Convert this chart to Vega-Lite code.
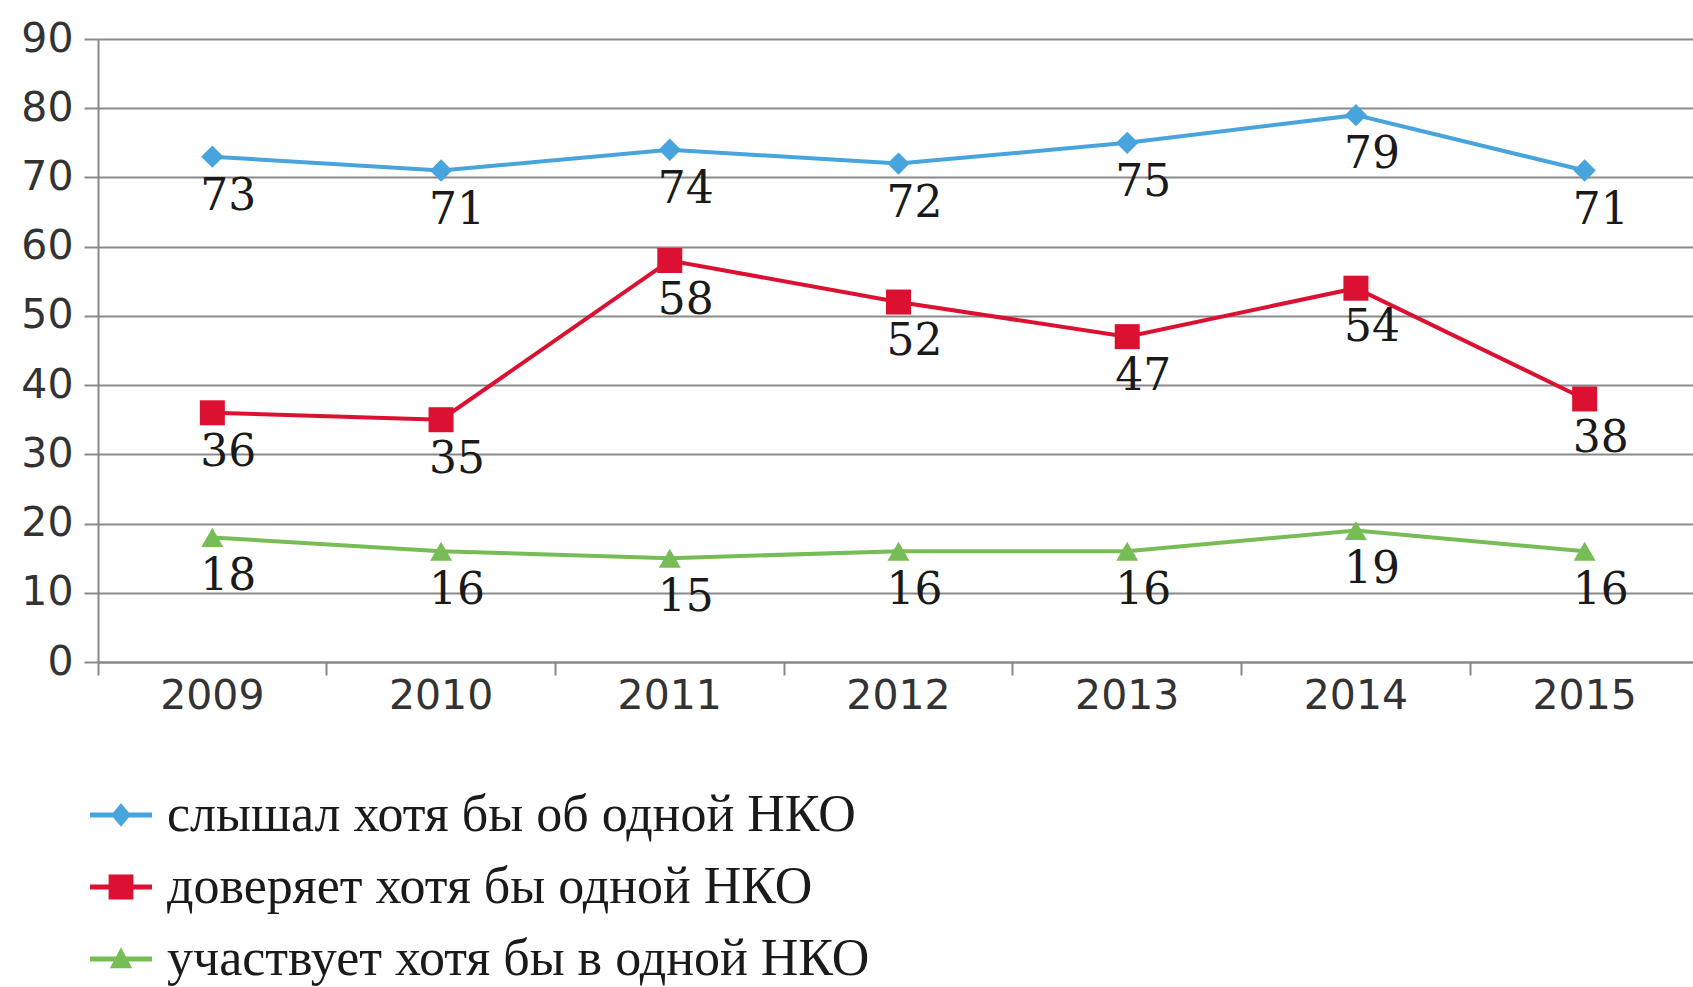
{
  "$schema": "https://vega.github.io/schema/vega-lite/v6.json",
  "width": 1595,
  "height": 623,
  "autosize": {"type": "none"},
  "padding": {"left": 98, "top": 39, "right": 0, "bottom": 325},
  "background": "white",
  "config": {
    "view": {"stroke": null},
    "axis": {"labelFont": "DejaVu Sans", "labelFontSize": 41, "labelColor": "#333333"}
  },
  "data": {
    "values": [
      {"year": "2009", "series": "слышал хотя бы об одной НКО", "value": 73},
      {"year": "2010", "series": "слышал хотя бы об одной НКО", "value": 71},
      {"year": "2011", "series": "слышал хотя бы об одной НКО", "value": 74},
      {"year": "2012", "series": "слышал хотя бы об одной НКО", "value": 72},
      {"year": "2013", "series": "слышал хотя бы об одной НКО", "value": 75},
      {"year": "2014", "series": "слышал хотя бы об одной НКО", "value": 79},
      {"year": "2015", "series": "слышал хотя бы об одной НКО", "value": 71},
      {"year": "2009", "series": "доверяет хотя бы одной НКО", "value": 36},
      {"year": "2010", "series": "доверяет хотя бы одной НКО", "value": 35},
      {"year": "2011", "series": "доверяет хотя бы одной НКО", "value": 58},
      {"year": "2012", "series": "доверяет хотя бы одной НКО", "value": 52},
      {"year": "2013", "series": "доверяет хотя бы одной НКО", "value": 47},
      {"year": "2014", "series": "доверяет хотя бы одной НКО", "value": 54},
      {"year": "2015", "series": "доверяет хотя бы одной НКО", "value": 38},
      {"year": "2009", "series": "участвует хотя бы в одной НКО", "value": 18},
      {"year": "2010", "series": "участвует хотя бы в одной НКО", "value": 16},
      {"year": "2011", "series": "участвует хотя бы в одной НКО", "value": 15},
      {"year": "2012", "series": "участвует хотя бы в одной НКО", "value": 16},
      {"year": "2013", "series": "участвует хотя бы в одной НКО", "value": 16},
      {"year": "2014", "series": "участвует хотя бы в одной НКО", "value": 19},
      {"year": "2015", "series": "участвует хотя бы в одной НКО", "value": 16}
    ]
  },
  "encoding": {
    "x": {"field": "year", "type": "ordinal", "axis": null, "scale": {"type": "band", "range": [0, 1601], "paddingInner": 0, "paddingOuter": 0}},
    "y": {"field": "value", "type": "quantitative", "scale": {"domain": [0, 90], "nice": false}}
  },
  "layer": [
    {
      "mark": {"type": "line", "strokeWidth": 4},
      "encoding": {
        "x": {"field": "year", "type": "ordinal", "axis": {"orient": "bottom", "title": null, "labelAngle": 0, "ticks": false, "domain": true, "domainColor": "#888888", "domainWidth": 2, "labelPadding": 14, "grid": false}},
        "y": {"field": "value", "type": "quantitative", "axis": {"title": null, "values": [0,10,20,30,40,50,60,70,80,90], "grid": true, "gridColor": "#8a8a8a", "gridWidth": 2, "gridOpacity": 1, "domainColor": "#888888", "domainWidth": 2, "tickColor": "#8a8a8a", "tickWidth": 2, "tickSize": 14, "labelPadding": 11}},
        "color": {
          "field": "series", "type": "nominal",
          "scale": {"domain": ["слышал хотя бы об одной НКО", "доверяет хотя бы одной НКО", "участвует хотя бы в одной НКО"], "range": ["#48a4dd", "#dc1030", "#77bd55"]},
          "legend": {
            "title": null, "orient": "none", "legendX": -8, "legendY": 745, "padding": 0,
            "direction": "vertical", "rowPadding": 15, "symbolSize": 3844, "labelOffset": 15,
            "labelFont": "Liberation Serif", "labelFontSize": 52, "labelColor": "#1a1a1a", "labelLimit": 1000,
            "encode": {
              "symbols": {
                "update": {
                  "shape": {"signal": "datum.value === 'слышал хотя бы об одной НКО' ? 'M-1,-0.08L1,-0.08L1,0.08L-1,0.08Z M0,-0.38L0.32,0L0,0.38L-0.32,0Z' : datum.value === 'доверяет хотя бы одной НКО' ? 'M-1,-0.08L1,-0.08L1,0.08L-1,0.08Z M-0.4,-0.4L0.4,-0.4L0.4,0.4L-0.4,0.4Z' : 'M-1,-0.08L1,-0.08L1,0.08L-1,0.08Z M0,-0.38L0.36,0.3L-0.36,0.3Z'"},
                  "size": {"value": 3844},
                  "fill": {"signal": "scale('color', datum.value)"},
                  "fillOpacity": {"value": 1},
                  "opacity": {"value": 1},
                  "strokeWidth": {"value": 0}
                }
              }
            }
          }
        }
      }
    },
    {
      "transform": [{"filter": "datum.series === 'слышал хотя бы об одной НКО'"}],
      "mark": {"type": "point", "filled": true, "opacity": 1, "shape": "diamond", "size": 500, "color": "#48a4dd"}
    },
    {
      "transform": [{"filter": "datum.series === 'доверяет хотя бы одной НКО'"}],
      "mark": {"type": "point", "filled": true, "opacity": 1, "shape": "square", "size": 625, "color": "#dc1030"}
    },
    {
      "transform": [{"filter": "datum.series === 'участвует хотя бы в одной НКО'"}],
      "mark": {"type": "point", "filled": true, "opacity": 1, "shape": "triangle-up", "size": 484, "color": "#77bd55"}
    },
    {
      "mark": {"type": "text", "font": "DejaVu Serif", "fontSize": 44, "color": "#1a1a1a", "dx": 16, "dy": 40, "baseline": "middle", "align": "center"},
      "encoding": {
        "text": {"field": "value", "type": "quantitative"},
        "x": {"field": "year", "type": "ordinal", "axis": {"orient": "bottom", "title": null, "labels": false, "domain": false, "grid": false, "ticks": true, "tickColor": "#888888", "tickWidth": 2, "tickSize": 13, "bandPosition": 0}}
      }
    }
  ],
  "resolve": {"axis": {"x": "independent"}}
}
